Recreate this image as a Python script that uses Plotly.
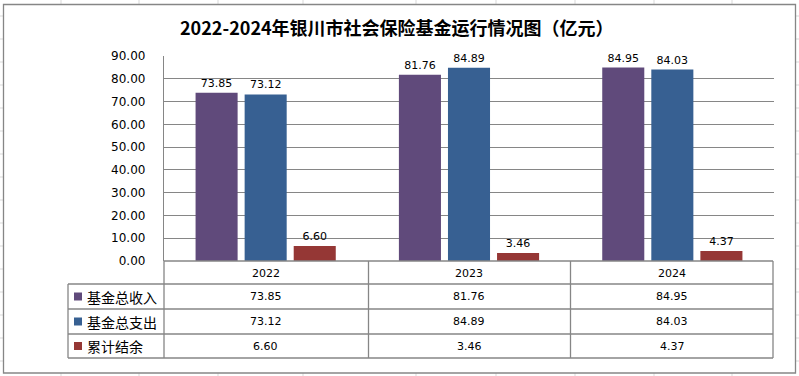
import plotly.graph_objects as go

# ---- data ----
years = ["2022", "2023", "2024"]
series_names = ["基金总收入", "基金总支出", "累计结余"]
income = [73.85, 81.76, 84.95]
expense = [73.12, 84.89, 84.03]
balance = [6.60, 3.46, 4.37]
series_values = [income, expense, balance]
series_colors = ["#604A7B", "#376092", "#953735"]
title_text = "2022-2024年银川市社会保险基金运行情况图（亿元）"
y_ticks = [0, 10, 20, 30, 40, 50, 60, 70, 80, 90]

W, H = 799, 376
PL, PR, PT, PB = 164, 774, 56, 261  # plot area pixels

def px(x):
    return (x - PL) / (PR - PL)

def py(y):
    return (PB - y) / (PB - PT)

fig = go.Figure()
for name, vals, col in zip(series_names, series_values, series_colors):
    fig.add_trace(go.Bar(
        x=years, y=vals, name=name, marker=dict(color=col, line=dict(width=0)),
        texttemplate="%{y:.2f}", textposition="outside", cliponaxis=False,
        textfont=dict(family="DejaVu Sans", size=11, color="#000000"),
        hoverinfo="skip",
    ))

shapes = []
grey = "#868686"
light = "#d9d9d9"
# spreadsheet cell lines (behind chart)
for xv in [61, 139, 218, 303, 416, 496, 575, 654, 732]:
    shapes.append(dict(type="line", xref="paper", yref="paper", x0=px(xv), x1=px(xv),
                       y0=py(0), y1=py(H), line=dict(color=light, width=1), layer="below"))
for yv in range(16, H, 23):
    shapes.append(dict(type="line", xref="paper", yref="paper", x0=px(0), x1=px(W),
                       y0=py(yv), y1=py(yv), line=dict(color=light, width=1), layer="below"))
# chart area
shapes.append(dict(type="rect", xref="paper", yref="paper", x0=px(3.5), x1=px(795.5),
                   y0=py(4.5), y1=py(373), fillcolor="white", line=dict(color=grey, width=1.3),
                   layer="below"))
# table lines
row_y = [284, 309, 334, 358]
for yv in row_y:
    shapes.append(dict(type="line", xref="paper", yref="paper", x0=px(68), x1=px(773),
                       y0=py(yv), y1=py(yv), line=dict(color=grey, width=1.3)))
for xv in [164, 368.5, 570.5, 773]:
    shapes.append(dict(type="line", xref="paper", yref="paper", x0=px(xv), x1=px(xv),
                       y0=py(261), y1=py(358), line=dict(color=grey, width=1.3)))
shapes.append(dict(type="line", xref="paper", yref="paper", x0=px(68), x1=px(68),
                   y0=py(284), y1=py(358), line=dict(color=grey, width=1.3)))
shapes.append(dict(type="line", xref="paper", yref="paper", x0=px(164), x1=px(773),
                   y0=py(261), y1=py(261), line=dict(color=grey, width=1.3)))

annotations = []
num_font = dict(family="DejaVu Sans", size=11, color="#000000")
for i, yr in enumerate(years):
    annotations.append(dict(x=i, xref="x", y=py(273), yref="paper", text=yr,
                            showarrow=False, font=num_font, xanchor="center", yanchor="middle"))
row_centers = [296.5, 321.5, 346]
for r, (name, vals, col) in enumerate(zip(series_names, series_values, series_colors)):
    yc = row_centers[r]
    shapes.append(dict(type="rect", xref="paper", yref="paper", x0=px(74), x1=px(82),
                       y0=py(yc - 4), y1=py(yc + 4), fillcolor=col, line=dict(width=0)))
    annotations.append(dict(x=px(85), xref="paper", y=py(yc), yref="paper", text=name,
                            showarrow=False, xanchor="left", yanchor="middle",
                            font=dict(family="Noto Sans CJK SC", size=14, color="#000000")))
    for i, v in enumerate(vals):
        annotations.append(dict(x=i, xref="x", y=py(yc), yref="paper", text=f"{v:.2f}",
                                showarrow=False, font=num_font, xanchor="center", yanchor="middle"))

annotations.append(dict(x=px(397), xref="paper", y=py(27), yref="paper", text="<b>" + title_text + "</b>",
                        showarrow=False, xanchor="center", yanchor="middle",
                        font=dict(family="Noto Sans CJK SC", size=18, color="#000000")))

fig.update_layout(
    width=W, height=H,
    margin=dict(l=PL, r=W - PR, t=PT, b=H - PB, pad=0),
    paper_bgcolor="white", plot_bgcolor="rgba(0,0,0,0)",
    showlegend=False, hovermode=False,
    barmode="group", bargap=0.276, bargroupgap=0.143,
    shapes=shapes, annotations=annotations,
    xaxis=dict(type="category", showticklabels=False, showgrid=False, zeroline=False, showline=False,
               range=[-0.5, 2.5], fixedrange=True),
    yaxis=dict(range=[0, 90], tickvals=y_ticks, tickformat=".2f", fixedrange=True,
               showgrid=True, gridcolor=grey, gridwidth=1.3,
               zeroline=False, showline=True, linecolor=grey, linewidth=1.3,
               ticks="", ticklabelstandoff=15,
               tickfont=dict(family="DejaVu Sans", size=12, color="#000000")),
)

fig.write_html("out.html", config={"displayModeBar": False},
               post_script="document.body.style.margin='0';document.body.style.overflow='hidden';")
